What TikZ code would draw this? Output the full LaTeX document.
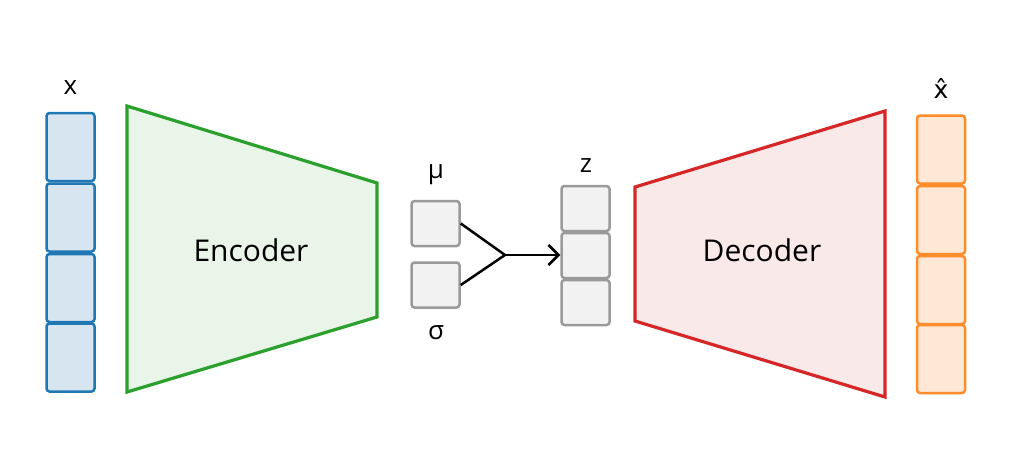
\documentclass[tikz,border=0pt]{standalone}
\usepackage{fontspec}
\setmainfont{Open Sans}
\newfontfamily\dvfont{DejaVu Sans}
\usetikzlibrary{arrows.meta}
\definecolor{bluestroke}{HTML}{1F77B4}
\definecolor{bluefill}{HTML}{D7E5F0}
\definecolor{greenstroke}{HTML}{2CA02C}
\definecolor{greenfill}{HTML}{E9F5E9}
\definecolor{redstroke}{HTML}{D62728}
\definecolor{redfill}{HTML}{FAE9E9}
\definecolor{orangestroke}{HTML}{FF8C2A}
\definecolor{orangefill}{HTML}{FFE9D6}
\definecolor{greystroke}{HTML}{9A9A9A}
\definecolor{greyfill}{HTML}{F2F2F2}
\begin{document}
\begin{tikzpicture}[x=1pt,y=-1pt,
  cell/.style={draw, rectangle, rounded corners=3pt, line width=2.5pt, inner sep=0pt, minimum width=48pt},
  xcell/.style={cell, draw=bluestroke, fill=bluefill, minimum height=68pt},
  ocell/.style={cell, draw=orangestroke, fill=orangefill, minimum height=68pt},
  gcell/.style={cell, draw=greystroke, fill=greyfill, minimum height=45pt},
  lbl/.style={font=\fontsize{26}{30}\selectfont, inner sep=0pt},
  blocklbl/.style={font=\fontsize{30}{34}\selectfont, inner sep=0pt},
  trap/.style={line width=3.2pt, line join=miter},
  conn/.style={line width=2.5pt, black}
]
\useasboundingbox (0,0) rectangle (1011,474);
% input x
\node[xcell] (x1) at (70.5,147) {};
\node[xcell] (x2) at (70.5,217.5) {};
\node[xcell] (x3) at (70.5,288) {};
\node[xcell] (x4) at (70.5,357.5) {};
\node[lbl] (xl) at (70.5,88) {x};
% encoder
\draw[trap, draw=greenstroke, fill=greenfill] (127,106) -- (377,183) -- (377,317) -- (127,392) -- cycle;
\node[blocklbl] (enc) at (251,250) {Encoder};
% mu sigma
\node[gcell] (mu) at (435.5,223.5) {};
\node[gcell] (sigma) at (435.5,285) {};
\node[lbl] (mul) at (436,175) {μ};
\node[lbl] (sigl) at (436,333) {σ};
\coordinate (j) at (505,255);
% z
\node[gcell] (z1) at (585.5,208.5) {};
\node[gcell] (z2) at (585.5,255.5) {};
\node[gcell] (z3) at (585.5,302.5) {};
\node[lbl] (zl) at (586,166) {z};
\draw[conn] (mu.east) -- (j);
\draw[conn] (sigma.east) -- (j);
\draw[conn, -{Straight Barb[length=10pt,width=20pt,line width=2.5pt]}] (j) -- (j -| z2.west);
% decoder
\draw[trap, draw=redstroke, fill=redfill] (635,187) -- (885,111) -- (885,397) -- (635,321) -- cycle;
\node[blocklbl] (dec) at (762,250) {Decoder};
% output xhat
\node[ocell] (o1) at (941,149.5) {};
\node[ocell] (o2) at (941,220) {};
\node[ocell] (o3) at (941,290) {};
\node[ocell] (o4) at (941,359) {};
\node[lbl, font=\dvfont\fontsize{25}{30}\selectfont] (ol) at (941,88) {x̂};
\end{tikzpicture}
\end{document}
